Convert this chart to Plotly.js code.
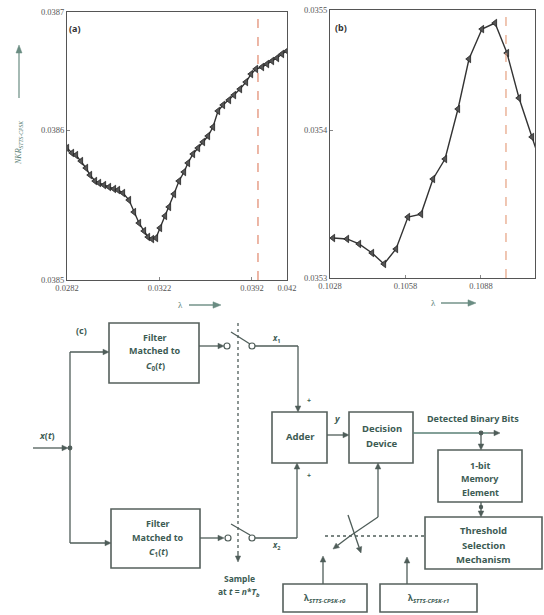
<!DOCTYPE html>
<html>
<head>
<meta charset="utf-8">
<script src="https://cdn.plot.ly/plotly-3.0.1.min.js"></script>
<style>html,body{margin:0;padding:0;background:#fff;}#chart{width:544px;height:615px;}</style>
</head>
<body>
<div id="chart"></div>
<script>
// ---------- data ----------
// panel (a): NKR_STTS-CPSK versus lambda
const aLambda = [0.028200,0.028416,0.028589,0.028805,0.029022,0.029195,0.029411,0.029584,0.029800,0.030016,
  0.030232,0.030405,0.030622,0.030881,0.031097,0.031314,0.031530,0.031703,0.031876,0.032049,
  0.032222,0.032438,0.032611,0.032827,0.033043,0.033260,0.033432,0.033649,0.033865,0.034081,
  0.034297,0.034514,0.034730,0.034946,0.035205,0.035422,0.035681,0.035940,0.036157,0.036373,
  0.036632,0.036849,0.037065,0.037281,0.037497,0.037714];
const aNKR = [0.0385880,0.0385847,0.0385833,0.0385793,0.0385747,0.0385700,0.0385660,0.0385647,0.0385633,0.0385620,
  0.0385607,0.0385600,0.0385580,0.0385533,0.0385453,0.0385380,0.0385327,0.0385287,0.0385273,0.0385280,
  0.0385347,0.0385427,0.0385487,0.0385573,0.0385660,0.0385720,0.0385780,0.0385840,0.0385880,0.0385920,
  0.0385960,0.0386020,0.0386127,0.0386167,0.0386200,0.0386233,0.0386273,0.0386320,0.0386373,0.0386407,
  0.0386420,0.0386440,0.0386460,0.0386480,0.0386507,0.0386527];
const aMarkedLambda = [0.036459];

// panel (b)
const bLambda = [0.102919,0.103475,0.103952,0.104469,0.104946,0.105423,0.105899,0.106416,0.106893,0.107370,
  0.107886,0.108323,0.108840,0.109356,0.109833,0.110310,0.110826,0.111339];
const bNKR = [0.0353270,0.0353264,0.0353230,0.0353169,0.0353095,0.0353196,0.0353412,0.0353432,0.0353669,0.0353804,
  0.0354142,0.0354480,0.0354682,0.0354723,0.0354520,0.0354216,0.0353953,0.0353689];
const bMarkedLambda = [0.109793];

// tick labels
const aXTickVals = [0.0282,0.0322,0.0362,0.037714];
const aXTickText = ['0.0282','0.0322','0.0392','0.042'];
const aYTickVals = [0.0385,0.0386,0.0386787];
const aYTickText = ['0.0385','0.0386','0.0387'];
const bXTickVals = [0.1028,0.1058,0.1088,0.110946];
const bXTickText = ['0.1028','0.1058','0.1088','0.111'];
const bYTickVals = [0.0353,0.0354,0.0354811];
const bYTickText = ['0.0353','0.0354','0.0355'];

// ---------- layout helpers ----------
const W = 544, H = 615;
const px = x => x / W;
const py = y => 1 - y / H;
const LC = '#4f5d59';
const TC = '#3d5c54';
const shapes = [];
const ann = [];

function line(x0, y0, x1, y1, o) {
  o = o || {};
  shapes.push({type:'line', xref:'paper', yref:'paper', x0:px(x0), y0:py(y0), x1:px(x1), y1:py(y1),
    line:{color:o.color||LC, width:o.width||1.3, dash:o.dash||'solid'}});
}
function rect(x0, y0, x1, y1) {
  shapes.push({type:'rect', xref:'paper', yref:'paper', x0:px(x0), y0:py(y0), x1:px(x1), y1:py(y1),
    line:{color:'#55605c', width:1.6}, fillcolor:'rgba(0,0,0,0)'});
}
function circ(cx, cy, r, fill) {
  shapes.push({type:'circle', xref:'paper', yref:'paper', x0:px(cx-r), y0:py(cy+r), x1:px(cx+r), y1:py(cy-r),
    line:{color:LC, width:1.2}, fillcolor: fill ? LC : '#ffffff'});
}
// arrow: shaft line plus a filled triangular head at (xt, yt)
function arrow(xf, yf, xt, yt, o) {
  o = o || {};
  const col = o.color || LC;
  const L = o.len || 6, hw = o.hw || 2.8;
  const dx = xt - xf, dy = yt - yf, d = Math.hypot(dx, dy);
  const ux = dx / d, uy = dy / d;
  const bx = xt - ux * L, by = yt - uy * L;
  line(xf, yf, bx, by, {color:col, width:o.width||1.3});
  const p1 = [bx - uy * hw, by + ux * hw], p2 = [bx + uy * hw, by - ux * hw];
  shapes.push({type:'path', xref:'paper', yref:'paper',
    path:'M' + px(xt) + ',' + py(yt) + ' L' + px(p1[0]) + ',' + py(p1[1]) + ' L' + px(p2[0]) + ',' + py(p2[1]) + ' Z',
    fillcolor:col, line:{color:col, width:0.5}});
}
function txt(x, y, t, o) {
  o = o || {};
  ann.push({xref:'paper', yref:'paper', x:px(x), y:py(y), text:t, showarrow:false, xanchor:o.xa||'center', yanchor:'middle',
    textangle:o.angle||0,
    font:{family:o.family||'Noto Sans, DejaVu Sans, sans-serif', size:o.size||9, color:o.color||TC, weight:o.weight||700}});
}

// ---------- panel annotations ----------
txt(75, 28, '(a)', {size:9, color:'#333'});
txt(341, 27, '(b)', {size:9, color:'#333'});
// y title of (a)
txt(19, 143, '<i>NKR</i><sub><i>STTS-CPSK</i></sub>', {angle:-90, size:8, color:'#5a8076', weight:400, family:'Liberation Serif, serif'});
arrow(19, 98, 19, 45, {color:'#6a8c82', width:1.2, len:8, hw:3});
// x titles
txt(180, 305, 'λ', {size:9, color:'#5a8076', weight:400, family:'Liberation Serif, serif'});
arrow(189, 305, 221, 305, {color:'#6a8c82', width:1.4, len:8, hw:3.2});
txt(433, 303, 'λ', {size:9, color:'#5a8076', weight:400, family:'Liberation Serif, serif'});
arrow(441, 303, 476, 303, {color:'#6a8c82', width:1.4, len:8, hw:3.2});

// ---------- block diagram (c) ----------
txt(81, 330, '(c)', {size:9});
rect(109, 323, 199, 383);
txt(155, 337, 'Filter'); txt(155, 351, 'Matched to'); txt(155, 366, '<i>C</i><sub>0</sub>(<i>t</i>)');
rect(111, 509, 200, 568);
txt(158, 523, 'Filter'); txt(158, 537, 'Matched to'); txt(158, 552, '<i>C</i><sub>1</sub>(<i>t</i>)');

// input
line(33, 448, 50, 448);
arrow(50, 448, 68, 448);
circ(70, 448, 1.8, true);
txt(47, 435, '<i>x</i>(<i>t</i>)', {size:9});
line(70, 352, 70, 543);
arrow(70, 352, 109, 352);
arrow(70, 543, 111, 543);

// top sampler
arrow(199, 346, 224, 346);
circ(227, 346, 3, false); circ(252, 346, 3, false);
line(231, 332, 250, 344);
line(255, 346, 298, 346);
arrow(298, 346, 298, 412);
txt(276, 338, '<i>x</i><sub>1</sub>', {size:8});
txt(309, 400, '+', {size:7});

// bottom sampler
arrow(200, 538, 224, 538);
circ(228, 538, 3, false); circ(252, 538, 3, false);
line(231, 524, 250, 535);
line(255, 538, 297, 538);
arrow(297, 538, 297, 463);
txt(276, 545, '<i>x</i><sub>2</sub>', {size:8});
txt(309, 476, '+', {size:7});

// sampling clock (dotted)
line(238, 323, 238, 555, {dash:'dot', width:1.3});
arrow(238, 554, 238, 562, {len:6, hw:2.6});
txt(239, 578, 'Sample', {size:8.5});
txt(239, 592, 'at <i>t</i> = <i>n</i>*<i>T</i><sub><i>b</i></sub>', {size:8.5});

// adder & decision
rect(272, 412, 327, 463);
txt(300, 436, 'Adder', {size:9.5});
arrow(327, 435, 349, 435);
txt(337, 418, '<i>y</i>', {size:9});
rect(349, 412, 413, 463);
txt(382, 428, 'Decision', {size:9.5}); txt(382, 443, 'Device', {size:9.5});

// output
line(413, 433, 488, 433, {color:'#5a8076'});
arrow(488, 433, 500, 433);
circ(481, 433, 1.8, true);
txt(473, 418, 'Detected Binary Bits', {size:9});
arrow(481, 433, 481, 450);
rect(438, 450, 522, 502);
txt(480, 465, '1-bit'); txt(480, 479, 'Memory'); txt(480, 492, 'Element');
arrow(481, 502, 481, 517);
circ(481, 507, 1.6, true);
rect(425, 517, 542, 569);
txt(483, 530, 'Threshold', {size:9.5}); txt(483, 545, 'Selection', {size:9.5}); txt(483, 559, 'Mechanism', {size:9.5});

// threshold switch
line(325, 536, 425, 536, {dash:'dot', width:1.3});
arrow(378, 517, 378, 463);
line(378, 517, 350, 536);
arrow(350, 536, 333, 549);
arrow(348, 515, 361, 553);
rect(283, 584, 367, 612);
rect(380, 584, 477, 612);
txt(325, 598, 'λ<sub><i>STTS-CPSK-r0</i></sub>', {size:8.5});
txt(428, 598, 'λ<sub><i>STTS-CPSK-r1</i></sub>', {size:8.5});
arrow(323, 584, 323, 556);
arrow(407, 584, 407, 557);

// dashed markers in plots
shapes.push({type:'line', xref:'x', yref:'y domain', x0:aMarkedLambda[0], x1:aMarkedLambda[0], y0:0, y1:1,
  line:{color:'#e0876c', width:1.2, dash:'dash'}});
shapes.push({type:'line', xref:'x2', yref:'y2 domain', x0:bMarkedLambda[0], x1:bMarkedLambda[0], y0:0, y1:1,
  line:{color:'#e6a080', width:1.2, dash:'dash'}});

const tickFont = {family:'Liberation Serif, serif', size:8.5, color:'#555'};
const axBase = {showgrid:false, zeroline:false, showline:true, linecolor:'#555', linewidth:1, mirror:true,
  ticks:'inside', ticklen:3, tickcolor:'#888', tickfont:tickFont, automargin:false, fixedrange:true};

const traceStyle = {mode:'lines+markers', line:{color:'#333', width:1.4},
  marker:{symbol:'triangle-left', size:6.5, color:'#555', line:{color:'#222', width:0.8}}, hoverinfo:'skip', showlegend:false};

const data = [
  Object.assign({x:aLambda, y:aNKR, xaxis:'x', yaxis:'y'}, traceStyle),
  Object.assign({x:bLambda, y:bNKR, xaxis:'x2', yaxis:'y2'}, traceStyle)
];

const layout = {
  width:W, height:H, margin:{l:0, r:0, t:0, b:0}, paper_bgcolor:'#fff', plot_bgcolor:'#fff', showlegend:false,
  xaxis:Object.assign({}, axBase, {domain:[px(67), px(287)], range:[0.0282, 0.037714], tickvals:aXTickVals, ticktext:aXTickText, anchor:'y'}),
  yaxis:Object.assign({}, axBase, {domain:[py(280), py(12)], range:[0.0385, 0.0386787], tickvals:aYTickVals, ticktext:aYTickText, anchor:'x'}),
  xaxis2:Object.assign({}, axBase, {domain:[px(330), px(535)], range:[0.1028, 0.110946], tickvals:bXTickVals, ticktext:bXTickText, anchor:'y2'}),
  yaxis2:Object.assign({}, axBase, {domain:[py(278), py(10)], range:[0.0353, 0.0354811], tickvals:bYTickVals, ticktext:bYTickText, anchor:'x2'}),
  shapes:shapes, annotations:ann
};

Plotly.newPlot('chart', data, layout, {displayModeBar:false, staticPlot:true});
</script>
</body>
</html>
